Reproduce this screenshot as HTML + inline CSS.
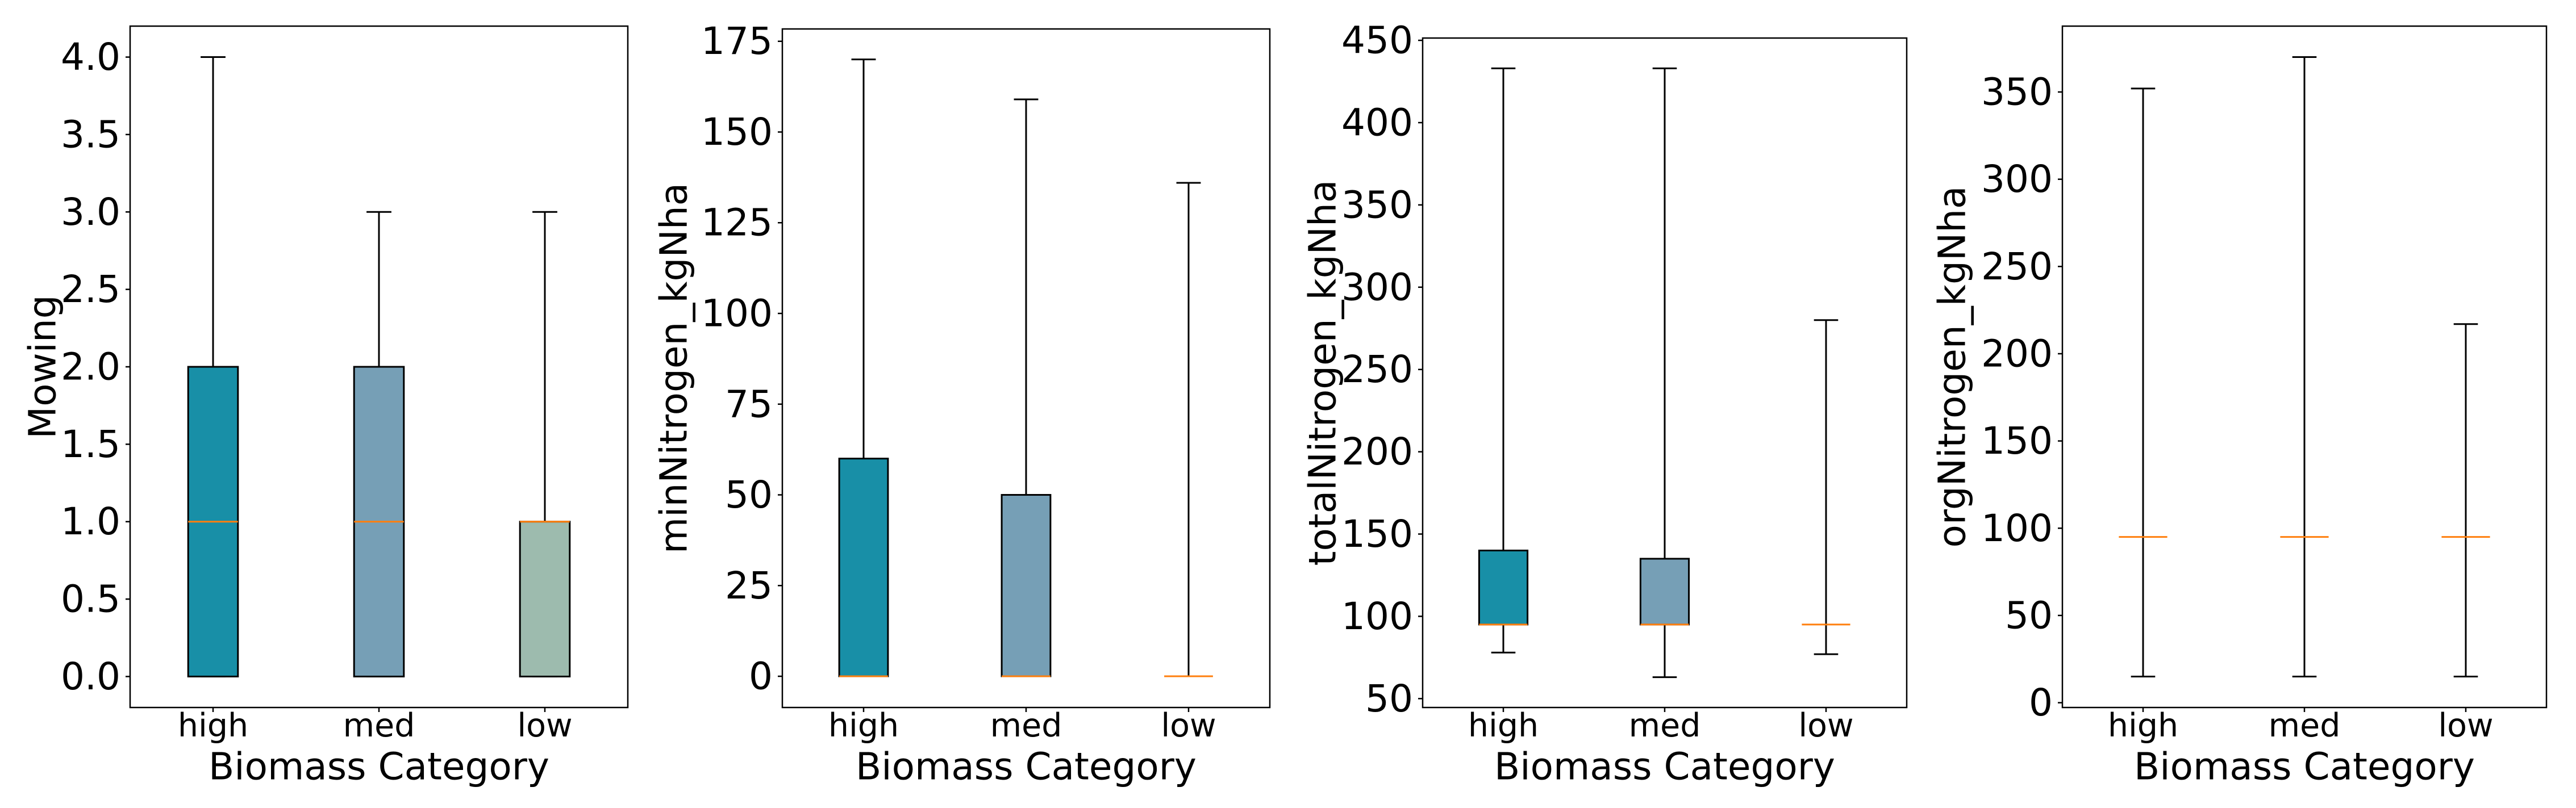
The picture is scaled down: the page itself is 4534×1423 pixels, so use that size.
<!DOCTYPE html>
<html><head><meta charset="utf-8"><style>
html,body{margin:0;padding:0;background:#fff;}
svg{display:block;font-family:"DejaVu Sans","Liberation Sans",sans-serif;}
</style></head><body>
<svg id="fig" width="4534" height="1423" viewBox="0 0 4534 1423" xmlns="http://www.w3.org/2000/svg"></svg>
<script>
const categories = ["high","med","low"];
const boxColors = ["#188fa7","#769fb6","#9dbbae"];
const yLabels = ["Mowing","minNitrogen_kgNha","totalNitrogen_kgNha","orgNitrogen_kgNha"];
// per panel: [whiskerLow, q1, median, q3, whiskerHigh] for high, med, low
const mowingStats = [[0,0,1,2,4],[0,0,1,2,3],[0,0,1,1,3]];
const minNStats = [[0,0,0,60,170],[0,0,0,50,159],[0,0,0,0,136]];
const totalNStats = [[78,95,95,140,433],[63,95,95,135,433],[77,95,95,95,280]];
const orgNStats = [[15,95,95,95,352],[15,95,95,95,370],[15,95,95,95,217]];
const mowingTicks = ["0.0","0.5","1.0","1.5","2.0","2.5","3.0","3.5","4.0"];
const minNTicks = ["0","25","50","75","100","125","150","175"];
const totalNTicks = ["50","100","150","200","250","300","350","400","450"];
const orgNTicks = ["0","50","100","150","200","250","300","350"];
const ylims = [[-0.2,4.2],[-8.6,178.4],[44.6,451.4],[-2.75,387.75]];

const panels = [
 {L:229,R:1105,T:46,B:1246,stats:mowingStats,ticks:mowingTicks,ylab:75,name:"mowing"},
 {L:1377,R:2235,T:51,B:1246,stats:minNStats,ticks:minNTicks,ylab:1186,name:"min-nitrogen"},
 {L:2504,R:3356,T:67,B:1246,stats:totalNStats,ticks:totalNTicks,ylab:2328,name:"total-nitrogen"},
 {L:3630,R:4482,T:46,B:1246,stats:orgNStats,ticks:orgNTicks,ylab:3436,name:"org-nitrogen"}
];
const NS="http://www.w3.org/2000/svg";
const svg=document.getElementById('fig');
function mk(tag,attrs,parent){const e=document.createElementNS(NS,tag);for(const k in attrs)e.setAttribute(k,attrs[k]);(parent||svg).appendChild(e);return e;}

panels.forEach((p,pi)=>{
  const g=mk('g',{});
  
  
  const [y0,y1]=ylims[pi];
  const ys=v=>p.B-(v-y0)/(y1-y0)*(p.B-p.T);
  const unit=(p.R-p.L)/3;
  const xs=i=>p.L+(i+0.5)*unit;
  // boxes
  p.stats.forEach((s,i)=>{
    const cx=xs(i), hw=0.15*unit, cw=0.075*unit;
    const bg=mk('g',{},g);
    
    
    mk('line',{x1:cx,x2:cx,y1:ys(s[0]),y2:ys(s[1]),stroke:'#000','stroke-width':3},bg);
    mk('line',{x1:cx,x2:cx,y1:ys(s[3]),y2:ys(s[4]),stroke:'#000','stroke-width':3},bg);
    mk('line',{x1:cx-cw,x2:cx+cw,y1:ys(s[0]),y2:ys(s[0]),stroke:'#000','stroke-width':3},bg);
    mk('line',{x1:cx-cw,x2:cx+cw,y1:ys(s[4]),y2:ys(s[4]),stroke:'#000','stroke-width':3},bg);
    if(s[3]>s[1]) mk('rect',{x:cx-hw,y:ys(s[3]),width:2*hw,height:ys(s[1])-ys(s[3]),fill:boxColors[i],stroke:'#000','stroke-width':3},bg);
    mk('line',{x1:cx-hw,x2:cx+hw,y1:ys(s[2]),y2:ys(s[2]),stroke:'#ff7f0e','stroke-width':3},bg);
  });
  // spines
  const fr=mk('rect',{x:p.L,y:p.T,width:p.R-p.L,height:p.B-p.T,fill:'none',stroke:'#000','stroke-width':2.5},g);
  
  
  // y ticks
  p.ticks.forEach(t=>{
    const y=ys(parseFloat(t));
    mk('line',{x1:p.L-8,x2:p.L,y1:y,y2:y,stroke:'#000','stroke-width':2.5},g);
    const tx=mk('text',{x:p.L-17,y:y,'font-size':66,'text-anchor':'end','dominant-baseline':'central',fill:'#000'},g);
    tx.textContent=t;
    
    
  });
  // x ticks
  categories.forEach((c,i)=>{
    const x=xs(i);
    mk('line',{x1:x,x2:x,y1:p.B,y2:p.B+8,stroke:'#000','stroke-width':2.5},g);
    const tx=mk('text',{x:x,y:1278,'font-size':57,'text-anchor':'middle','dominant-baseline':'central',fill:'#000'},g);
    tx.textContent=c;
    
    
  });
  const xl=mk('text',{x:(p.L+p.R)/2,y:1350,'font-size':66,'text-anchor':'middle','dominant-baseline':'central',fill:'#000'},g);
  xl.textContent='Biomass Category';
  
  
  const cy=(p.T+p.B)/2;
  const yl=mk('text',{x:p.ylab,y:cy,'font-size':66,'text-anchor':'middle','dominant-baseline':'central',fill:'#000',transform:`rotate(-90 ${p.ylab} ${cy})`},g);
  yl.textContent=yLabels[pi];
  
  
});
</script>
</body></html>
